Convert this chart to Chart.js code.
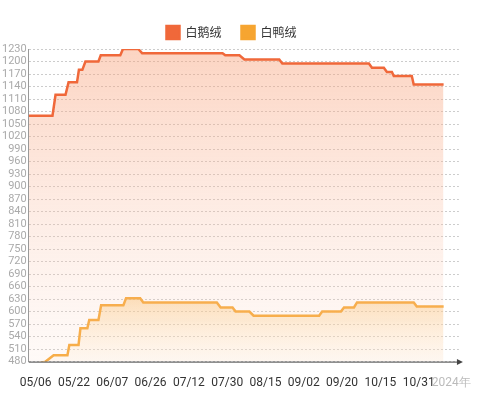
<!DOCTYPE html>
<html><head><meta charset="utf-8">
<script src="https://cdn.jsdelivr.net/npm/chart.js@4"></script>
<style>html,body{margin:0;padding:0;background:#fff}#w{width:477px;height:400px}</style>
</head><body><div id="w"><canvas id="c"></canvas></div>
<script>
const seriesNames = ['白鹅绒', '白鸭绒'];
const tickLabels = ['05/06','05/22','06/07','06/26','07/12','07/30','08/15','09/02','09/20','10/15','10/31','2024年'];
const tickPositions = [0,10,20,30,40,50,60,70,80,90,100,108.5];
const gooseX = [-1.8,4.4,5.2,7.8,8.6,10.8,11.3,12.2,13,16.4,17,22.1,22.8,26.8,27.8,48.8,49.5,53.2,54.5,63.6,64.4,87,87.8,90.9,91.7,93,93.5,98.2,98.7,106.5];
const gooseY = [1070,1070,1120,1120,1150,1150,1180,1180,1200,1200,1215,1215,1230,1230,1220,1220,1215,1215,1205,1205,1195,1195,1185,1185,1175,1175,1165,1165,1145,1145];
const duckX = [-1.8,2.6,4.7,8.3,8.8,11.2,11.7,13.5,14,16.4,17.1,22.9,23.6,27.3,28.1,47.3,48.3,51.4,52.2,55.8,56.9,74,74.8,79.7,80.5,83.1,83.9,98.7,99.5,106.5];
const duckY = [470,480,495,495,520,520,560,560,580,580,615,615,632,632,622,622,610,610,600,600,590,590,600,600,610,610,622,622,612,612];

const pts = (xs, ys) => xs.map((x, i) => ({x, y: ys[i]}));
function grad(ctx, area, c1, c2) {
  const g = ctx.createLinearGradient(0, area.top, 0, area.bottom);
  g.addColorStop(0, c1); g.addColorStop(1, c2); return g;
}
const arrow = {
  id: 'arrow',
  afterDraw(chart) {
    const {ctx, chartArea: a} = chart;
    ctx.save();
    ctx.strokeStyle = '#444'; ctx.fillStyle = '#444'; ctx.lineWidth = 1;
    ctx.beginPath(); ctx.moveTo(a.left, a.bottom + 0.5); ctx.lineTo(a.right, a.bottom + 0.5); ctx.stroke();
    ctx.beginPath(); ctx.moveTo(a.right + 4, a.bottom + 0.5); ctx.lineTo(a.right - 2, a.bottom - 2.5); ctx.lineTo(a.right - 2, a.bottom + 3.5); ctx.closePath(); ctx.fill();
    ctx.restore();
  }
};
new Chart(document.getElementById('c'), {
  type: 'line',
  data: { datasets: [
    { label: seriesNames[0], data: pts(gooseX, gooseY), borderColor: '#F0683A', backgroundColor: '#F0683A', borderWidth: 2.5, pointRadius: 0, tension: 0,
      fill: { target: 'origin', above: c => c.chart.chartArea ? grad(c.chart.ctx, c.chart.chartArea, 'rgba(248,160,120,0.45)', 'rgba(252,220,205,0.15)') : 'rgba(248,160,120,0.3)' } },
    { label: seriesNames[1], data: pts(duckX, duckY), borderColor: '#F6A531', backgroundColor: '#F6A531', borderWidth: 2.5, pointRadius: 0, tension: 0,
      fill: { target: 'origin', above: c => { const ch = c.chart, a = ch.chartArea; if (!a) return 'rgba(250,200,120,0.3)'; const g = ch.ctx.createLinearGradient(0, ch.scales.y.getPixelForValue(632), 0, a.bottom); g.addColorStop(0,'rgba(250,190,100,0.45)'); g.addColorStop(1,'rgba(255,240,215,0.2)'); return g; } } }
  ]},
  options: {
    responsive: true, maintainAspectRatio: false, animation: false,
    layout: { padding: { left: 0, right: 14, top: 6, bottom: 4 } },
    plugins: {
      legend: { position: 'top', labels: { boxWidth: 13, boxHeight: 13, padding: 20, color: '#333', font: { family: 'Noto Sans CJK SC', size: 12 } } },
      tooltip: { enabled: false }
    },
    scales: {
      x: { type: 'linear', min: -1.8, max: 110.5,
        afterBuildTicks: s => { s.ticks = tickPositions.map(v => ({value: v})); },
        ticks: { autoSkip: false, maxRotation: 0, padding: 6, font: { family: 'Roboto', size: 12 },
          color: c => c.index === tickLabels.length - 1 ? '#bbb' : '#333',
          callback: (v, i) => tickLabels[i] },
        grid: { display: false }, border: { display: false } },
      y: { min: 480, max: 1230,
        ticks: { stepSize: 30, autoSkip: false, color: '#aaa', padding: 2, font: { family: 'Roboto', size: 11 }, callback: v => String(v) },
        grid: { color: '#ccc', drawTicks: false, tickLength: 0 },
        border: { color: '#999', dash: [2, 2] } }
    }
  },
  plugins: [arrow]
});
</script></body></html>
